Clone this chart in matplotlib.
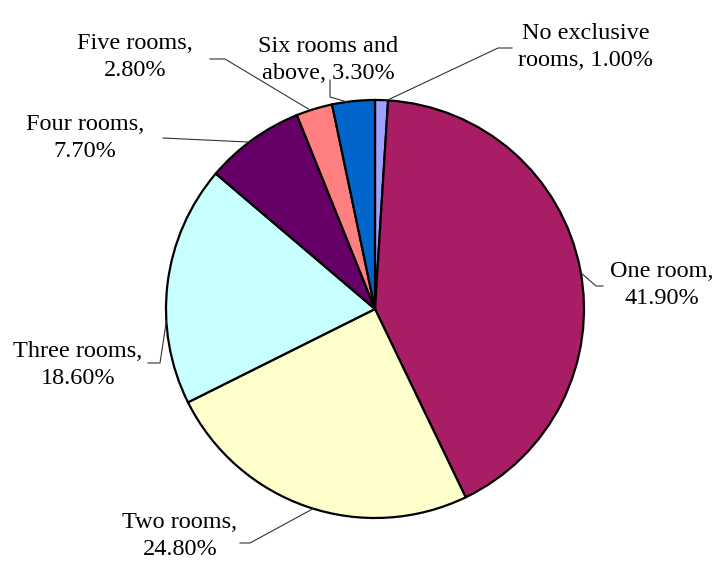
import numpy as np
import matplotlib
matplotlib.use("Agg")
import matplotlib.pyplot as plt

# room shares, clockwise from the top
labels = ["No exclusive\nrooms", "One room", "Two rooms", "Three rooms",
          "Four rooms", "Five rooms", "Six rooms and\nabove"]
shares = [1.0, 41.9, 24.8, 18.6, 7.7, 2.8, 3.3]
colors = ["#A0A0FF", "#A81D64", "#FFFFCC", "#C8FFFF", "#660066", "#FF8080", "#0066CC"]

plt.rcParams["font.family"] = ["Liberation Serif", "DejaVu Serif"]

W, H = 722, 567
fig = plt.figure(figsize=(W / 100, H / 100), dpi=100)
ax = fig.add_axes([0, 0, 1, 1])

cx, cy, r = 375, H - 309, 209
ax.pie(shares, colors=colors, startangle=90, counterclock=False,
       center=(cx, cy), radius=r, frame=True,
       wedgeprops=dict(edgecolor="black", linewidth=1.6))
ax.set_xlim(0, W)
ax.set_ylim(0, H)
ax.set_aspect("equal")
ax.axis("off")

# label centre (x, y from top), leader start, elbow, angle where it meets the pie
label_pos = [(586, 47), (662, 285), (180, 536), (78, 365), (85, 138), (135, 57), (328, 60)]
leaders = [
    [(512, 48), (498, 48)],
    [(603, 286), (596, 286)],
    [(240, 543), (250, 543)],
    [(148, 363), (160, 363)],
    [(163, 138)],
    [(210, 59), (225, 59)],
    [(330, 80), (330, 97)],
]
edge_angle = [86.7, 10.0, 252.8, 183.3, 127.0, 108.0, 97.7]

for lab, val, (tx, ty), pts, ang in zip(labels, shares, label_pos, leaders, edge_angle):
    text = f"{lab}, {val:.2f}%" if "\n" in lab else f"{lab},\n{val:.2f}%"
    ax.text(tx, H - ty, text, ha="center", va="center", fontsize=17.5,
            linespacing=1.33, color="black")
    xs = [p[0] for p in pts] + [cx + r * np.cos(np.radians(ang))]
    ys = [H - p[1] for p in pts] + [cy + r * np.sin(np.radians(ang))]
    ax.plot(xs, ys, color="#333333", linewidth=0.8)

fig.savefig("out.png", dpi=100)
